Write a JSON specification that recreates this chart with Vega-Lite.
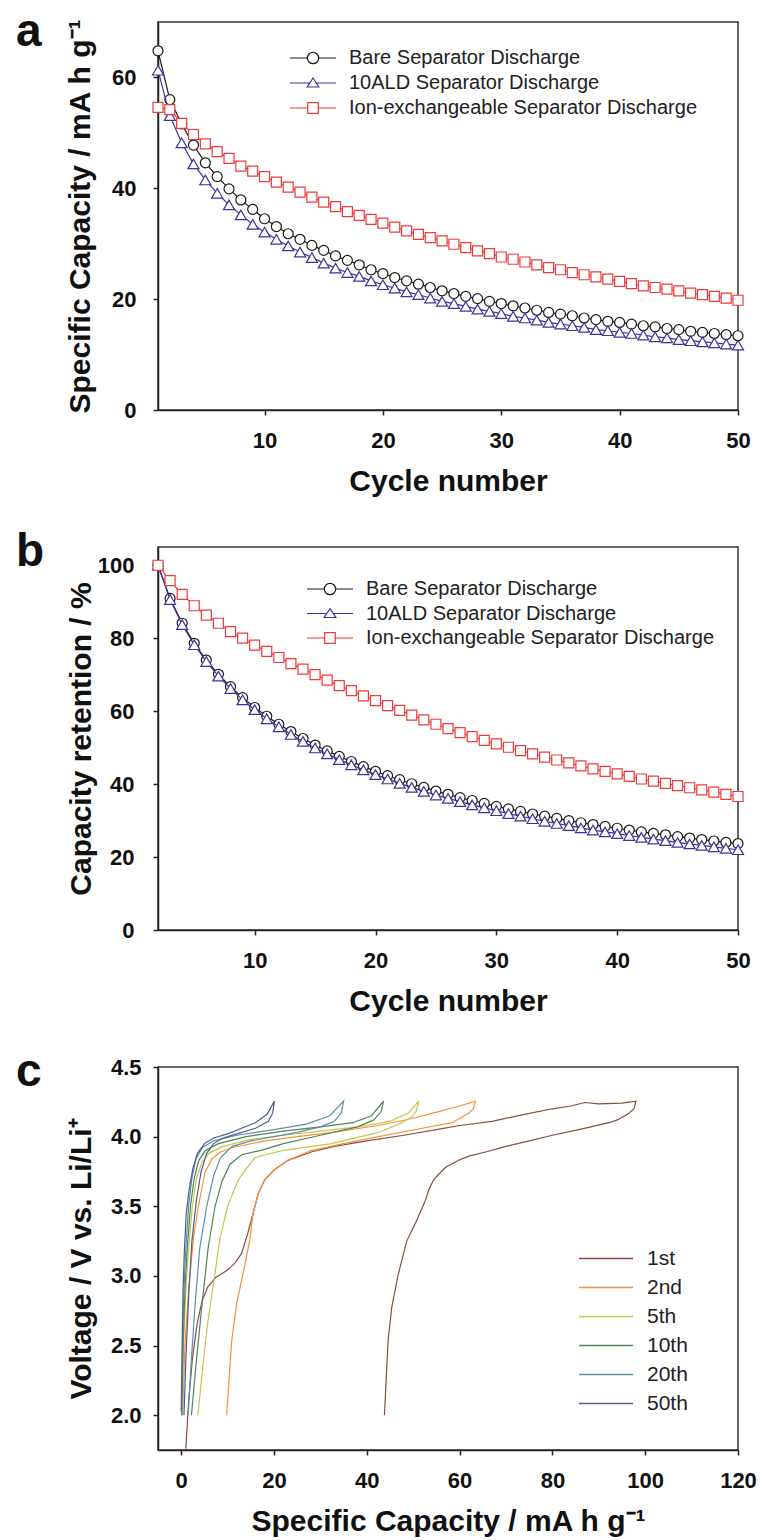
{
  "$schema": "https://vega.github.io/schema/vega-lite/v6.json",
  "background": "white",
  "padding": {"left": 15, "top": 8, "right": 5, "bottom": 5},
  "spacing": 137,
  "bounds": "flush",
  "resolve": {"scale": {"stroke": "independent", "shape": "independent", "color": "independent"}, "legend": {"stroke": "independent", "shape": "independent", "color": "independent"}},
  "config": {
    "font": "Liberation Sans",
    "view": {"stroke": "#333333", "strokeWidth": 1.5},
    "axis": {"grid": false, "domainColor": "#222222", "domainWidth": 1.5, "tickColor": "#222222", "tickWidth": 1.5, "tickSize": 5, "labelFont": "Liberation Sans", "labelFontWeight": "bold", "labelFontSize": 22, "labelColor": "#111111", "labelFlush": false, "labelOverlap": false, "titleFont": "Liberation Sans", "titleFontWeight": "bold", "titleFontSize": 30, "titleColor": "#111111"},
    "legend": {"labelFont": "Liberation Sans", "labelColor": "#222222", "labelLimit": 600}
  },
  "datasets": {
    "capA": [
      {"c":1,"s":"Bare","v":64.8},{"c":2,"s":"Bare","v":56.0},{"c":3,"s":"Bare","v":51.6},{"c":4,"s":"Bare","v":47.8},{"c":5,"s":"Bare","v":44.6},{"c":6,"s":"Bare","v":42.1},{"c":7,"s":"Bare","v":39.9},{"c":8,"s":"Bare","v":37.9},{"c":9,"s":"Bare","v":36.2},{"c":10,"s":"Bare","v":34.5},
      {"c":11,"s":"Bare","v":33.1},{"c":12,"s":"Bare","v":31.8},{"c":13,"s":"Bare","v":30.8},{"c":14,"s":"Bare","v":29.7},{"c":15,"s":"Bare","v":28.8},{"c":16,"s":"Bare","v":27.8},{"c":17,"s":"Bare","v":27.0},{"c":18,"s":"Bare","v":26.2},{"c":19,"s":"Bare","v":25.3},{"c":20,"s":"Bare","v":24.6},
      {"c":21,"s":"Bare","v":23.9},{"c":22,"s":"Bare","v":23.3},{"c":23,"s":"Bare","v":22.7},{"c":24,"s":"Bare","v":22.1},{"c":25,"s":"Bare","v":21.5},{"c":26,"s":"Bare","v":21.0},{"c":27,"s":"Bare","v":20.5},{"c":28,"s":"Bare","v":20.1},{"c":29,"s":"Bare","v":19.6},{"c":30,"s":"Bare","v":19.2},
      {"c":31,"s":"Bare","v":18.8},{"c":32,"s":"Bare","v":18.4},{"c":33,"s":"Bare","v":18.0},{"c":34,"s":"Bare","v":17.6},{"c":35,"s":"Bare","v":17.3},{"c":36,"s":"Bare","v":17.0},{"c":37,"s":"Bare","v":16.6},{"c":38,"s":"Bare","v":16.3},{"c":39,"s":"Bare","v":16.0},{"c":40,"s":"Bare","v":15.8},
      {"c":41,"s":"Bare","v":15.5},{"c":42,"s":"Bare","v":15.2},{"c":43,"s":"Bare","v":15.0},{"c":44,"s":"Bare","v":14.7},{"c":45,"s":"Bare","v":14.5},{"c":46,"s":"Bare","v":14.2},{"c":47,"s":"Bare","v":14.0},{"c":48,"s":"Bare","v":13.8},{"c":49,"s":"Bare","v":13.6},{"c":50,"s":"Bare","v":13.4},
      {"c":1,"s":"ALD","v":61.3},{"c":2,"s":"ALD","v":53.1},{"c":3,"s":"ALD","v":48.2},{"c":4,"s":"ALD","v":44.4},{"c":5,"s":"ALD","v":41.5},{"c":6,"s":"ALD","v":39.1},{"c":7,"s":"ALD","v":37.0},{"c":8,"s":"ALD","v":35.2},{"c":9,"s":"ALD","v":33.5},{"c":10,"s":"ALD","v":32.1},
      {"c":11,"s":"ALD","v":30.8},{"c":12,"s":"ALD","v":29.6},{"c":13,"s":"ALD","v":28.5},{"c":14,"s":"ALD","v":27.5},{"c":15,"s":"ALD","v":26.5},{"c":16,"s":"ALD","v":25.6},{"c":17,"s":"ALD","v":24.8},{"c":18,"s":"ALD","v":24.1},{"c":19,"s":"ALD","v":23.3},{"c":20,"s":"ALD","v":22.6},
      {"c":21,"s":"ALD","v":22.0},{"c":22,"s":"ALD","v":21.3},{"c":23,"s":"ALD","v":20.8},{"c":24,"s":"ALD","v":20.2},{"c":25,"s":"ALD","v":19.6},{"c":26,"s":"ALD","v":19.2},{"c":27,"s":"ALD","v":18.7},{"c":28,"s":"ALD","v":18.2},{"c":29,"s":"ALD","v":17.8},{"c":30,"s":"ALD","v":17.4},
      {"c":31,"s":"ALD","v":16.9},{"c":32,"s":"ALD","v":16.6},{"c":33,"s":"ALD","v":16.2},{"c":34,"s":"ALD","v":15.8},{"c":35,"s":"ALD","v":15.5},{"c":36,"s":"ALD","v":15.2},{"c":37,"s":"ALD","v":14.9},{"c":38,"s":"ALD","v":14.5},{"c":39,"s":"ALD","v":14.3},{"c":40,"s":"ALD","v":14.0},
      {"c":41,"s":"ALD","v":13.8},{"c":42,"s":"ALD","v":13.5},{"c":43,"s":"ALD","v":13.2},{"c":44,"s":"ALD","v":13.0},{"c":45,"s":"ALD","v":12.7},{"c":46,"s":"ALD","v":12.5},{"c":47,"s":"ALD","v":12.3},{"c":48,"s":"ALD","v":12.1},{"c":49,"s":"ALD","v":11.9},{"c":50,"s":"ALD","v":11.7},
      {"c":1,"s":"Ion","v":54.6},{"c":2,"s":"Ion","v":54.2},{"c":3,"s":"Ion","v":51.7},{"c":4,"s":"Ion","v":49.7},{"c":5,"s":"Ion","v":48.0},{"c":6,"s":"Ion","v":46.6},{"c":7,"s":"Ion","v":45.4},{"c":8,"s":"Ion","v":44.0},{"c":9,"s":"Ion","v":43.1},{"c":10,"s":"Ion","v":42.1},
      {"c":11,"s":"Ion","v":41.1},{"c":12,"s":"Ion","v":40.2},{"c":13,"s":"Ion","v":39.3},{"c":14,"s":"Ion","v":38.4},{"c":15,"s":"Ion","v":37.5},{"c":16,"s":"Ion","v":36.7},{"c":17,"s":"Ion","v":35.8},{"c":18,"s":"Ion","v":35.1},{"c":19,"s":"Ion","v":34.4},{"c":20,"s":"Ion","v":33.7},
      {"c":21,"s":"Ion","v":33.0},{"c":22,"s":"Ion","v":32.3},{"c":23,"s":"Ion","v":31.7},{"c":24,"s":"Ion","v":31.1},{"c":25,"s":"Ion","v":30.5},{"c":26,"s":"Ion","v":29.9},{"c":27,"s":"Ion","v":29.3},{"c":28,"s":"Ion","v":28.7},{"c":29,"s":"Ion","v":28.2},{"c":30,"s":"Ion","v":27.6},
      {"c":31,"s":"Ion","v":27.2},{"c":32,"s":"Ion","v":26.7},{"c":33,"s":"Ion","v":26.2},{"c":34,"s":"Ion","v":25.7},{"c":35,"s":"Ion","v":25.3},{"c":36,"s":"Ion","v":24.8},{"c":37,"s":"Ion","v":24.4},{"c":38,"s":"Ion","v":24.0},{"c":39,"s":"Ion","v":23.6},{"c":40,"s":"Ion","v":23.2},
      {"c":41,"s":"Ion","v":22.8},{"c":42,"s":"Ion","v":22.4},{"c":43,"s":"Ion","v":22.1},{"c":44,"s":"Ion","v":21.8},{"c":45,"s":"Ion","v":21.5},{"c":46,"s":"Ion","v":21.1},{"c":47,"s":"Ion","v":20.8},{"c":48,"s":"Ion","v":20.5},{"c":49,"s":"Ion","v":20.2},{"c":50,"s":"Ion","v":19.8}
    ],
    "retB": [
      {"c":2,"s":"Bare","v":100},{"c":3,"s":"Bare","v":90.9},{"c":4,"s":"Bare","v":84.1},{"c":5,"s":"Bare","v":78.6},{"c":6,"s":"Bare","v":74.0},{"c":7,"s":"Bare","v":70.1},{"c":8,"s":"Bare","v":66.7},{"c":9,"s":"Bare","v":63.7},{"c":10,"s":"Bare","v":61.0},
      {"c":11,"s":"Bare","v":58.6},{"c":12,"s":"Bare","v":56.4},{"c":13,"s":"Bare","v":54.4},{"c":14,"s":"Bare","v":52.5},{"c":15,"s":"Bare","v":50.7},{"c":16,"s":"Bare","v":49.1},{"c":17,"s":"Bare","v":47.6},{"c":18,"s":"Bare","v":46.2},{"c":19,"s":"Bare","v":44.8},{"c":20,"s":"Bare","v":43.5},
      {"c":21,"s":"Bare","v":42.3},{"c":22,"s":"Bare","v":41.2},{"c":23,"s":"Bare","v":40.1},{"c":24,"s":"Bare","v":39.1},{"c":25,"s":"Bare","v":38.1},{"c":26,"s":"Bare","v":37.2},{"c":27,"s":"Bare","v":36.3},{"c":28,"s":"Bare","v":35.5},{"c":29,"s":"Bare","v":34.7},{"c":30,"s":"Bare","v":33.9},
      {"c":31,"s":"Bare","v":33.2},{"c":32,"s":"Bare","v":32.5},{"c":33,"s":"Bare","v":31.8},{"c":34,"s":"Bare","v":31.2},{"c":35,"s":"Bare","v":30.6},{"c":36,"s":"Bare","v":30.0},{"c":37,"s":"Bare","v":29.4},{"c":38,"s":"Bare","v":28.9},{"c":39,"s":"Bare","v":28.4},{"c":40,"s":"Bare","v":27.9},
      {"c":41,"s":"Bare","v":27.4},{"c":42,"s":"Bare","v":26.9},{"c":43,"s":"Bare","v":26.5},{"c":44,"s":"Bare","v":26.1},{"c":45,"s":"Bare","v":25.6},{"c":46,"s":"Bare","v":25.2},{"c":47,"s":"Bare","v":24.8},{"c":48,"s":"Bare","v":24.4},{"c":49,"s":"Bare","v":24.0},{"c":50,"s":"Bare","v":23.7},
      {"c":2,"s":"ALD","v":100},{"c":3,"s":"ALD","v":90.6},{"c":4,"s":"ALD","v":83.7},{"c":5,"s":"ALD","v":78.2},{"c":6,"s":"ALD","v":73.6},{"c":7,"s":"ALD","v":69.6},{"c":8,"s":"ALD","v":66.2},{"c":9,"s":"ALD","v":63.1},{"c":10,"s":"ALD","v":60.4},
      {"c":11,"s":"ALD","v":57.9},{"c":12,"s":"ALD","v":55.7},{"c":13,"s":"ALD","v":53.6},{"c":14,"s":"ALD","v":51.7},{"c":15,"s":"ALD","v":49.9},{"c":16,"s":"ALD","v":48.3},{"c":17,"s":"ALD","v":46.7},{"c":18,"s":"ALD","v":45.3},{"c":19,"s":"ALD","v":43.9},{"c":20,"s":"ALD","v":42.6},
      {"c":21,"s":"ALD","v":41.4},{"c":22,"s":"ALD","v":40.2},{"c":23,"s":"ALD","v":39.1},{"c":24,"s":"ALD","v":38.0},{"c":25,"s":"ALD","v":37.0},{"c":26,"s":"ALD","v":36.1},{"c":27,"s":"ALD","v":35.2},{"c":28,"s":"ALD","v":34.3},{"c":29,"s":"ALD","v":33.5},{"c":30,"s":"ALD","v":32.7},
      {"c":31,"s":"ALD","v":31.9},{"c":32,"s":"ALD","v":31.2},{"c":33,"s":"ALD","v":30.5},{"c":34,"s":"ALD","v":29.8},{"c":35,"s":"ALD","v":29.2},{"c":36,"s":"ALD","v":28.6},{"c":37,"s":"ALD","v":28.0},{"c":38,"s":"ALD","v":27.4},{"c":39,"s":"ALD","v":26.9},{"c":40,"s":"ALD","v":26.4},
      {"c":41,"s":"ALD","v":25.9},{"c":42,"s":"ALD","v":25.4},{"c":43,"s":"ALD","v":24.9},{"c":44,"s":"ALD","v":24.5},{"c":45,"s":"ALD","v":24.0},{"c":46,"s":"ALD","v":23.6},{"c":47,"s":"ALD","v":23.2},{"c":48,"s":"ALD","v":22.8},{"c":49,"s":"ALD","v":22.4},{"c":50,"s":"ALD","v":22.0},
      {"c":2,"s":"Ion","v":100},{"c":3,"s":"Ion","v":95.8},{"c":4,"s":"Ion","v":92.0},{"c":5,"s":"Ion","v":88.9},{"c":6,"s":"Ion","v":86.3},{"c":7,"s":"Ion","v":84.1},{"c":8,"s":"Ion","v":81.8},{"c":9,"s":"Ion","v":80.0},{"c":10,"s":"Ion","v":78.1},
      {"c":11,"s":"Ion","v":76.4},{"c":12,"s":"Ion","v":74.7},{"c":13,"s":"Ion","v":73.0},{"c":14,"s":"Ion","v":71.5},{"c":15,"s":"Ion","v":70.0},{"c":16,"s":"Ion","v":68.5},{"c":17,"s":"Ion","v":67.0},{"c":18,"s":"Ion","v":65.6},{"c":19,"s":"Ion","v":64.2},{"c":20,"s":"Ion","v":62.9},
      {"c":21,"s":"Ion","v":61.5},{"c":22,"s":"Ion","v":60.2},{"c":23,"s":"Ion","v":58.9},{"c":24,"s":"Ion","v":57.6},{"c":25,"s":"Ion","v":56.4},{"c":26,"s":"Ion","v":55.2},{"c":27,"s":"Ion","v":54.1},{"c":28,"s":"Ion","v":53.0},{"c":29,"s":"Ion","v":52.0},{"c":30,"s":"Ion","v":51.0},
      {"c":31,"s":"Ion","v":50.1},{"c":32,"s":"Ion","v":49.2},{"c":33,"s":"Ion","v":48.3},{"c":34,"s":"Ion","v":47.4},{"c":35,"s":"Ion","v":46.6},{"c":36,"s":"Ion","v":45.8},{"c":37,"s":"Ion","v":45.0},{"c":38,"s":"Ion","v":44.2},{"c":39,"s":"Ion","v":43.5},{"c":40,"s":"Ion","v":42.8},
      {"c":41,"s":"Ion","v":42.1},{"c":42,"s":"Ion","v":41.4},{"c":43,"s":"Ion","v":40.8},{"c":44,"s":"Ion","v":40.2},{"c":45,"s":"Ion","v":39.6},{"c":46,"s":"Ion","v":39.0},{"c":47,"s":"Ion","v":38.4},{"c":48,"s":"Ion","v":37.8},{"c":49,"s":"Ion","v":37.2},{"c":50,"s":"Ion","v":36.6}
    ],
    "volt": [
      {"k":"1st","i":0,"q":1.0,"v":1.76},{"k":"1st","i":1,"q":1.6,"v":2.1},{"k":"1st","i":2,"q":2.4,"v":2.4},{"k":"1st","i":3,"q":3.4,"v":2.65},{"k":"1st","i":4,"q":4.5,"v":2.82},{"k":"1st","i":5,"q":5.7,"v":2.92},{"k":"1st","i":6,"q":7.5,"v":2.99},{"k":"1st","i":7,"q":9.9,"v":3.04},{"k":"1st","i":8,"q":11.5,"v":3.09},{"k":"1st","i":9,"q":13.0,"v":3.16},
      {"k":"1st","i":10,"q":14.3,"v":3.3},{"k":"1st","i":11,"q":15.5,"v":3.45},{"k":"1st","i":12,"q":16.6,"v":3.59},{"k":"1st","i":13,"q":18,"v":3.69},{"k":"1st","i":14,"q":20,"v":3.76},{"k":"1st","i":15,"q":23,"v":3.83},{"k":"1st","i":16,"q":28,"v":3.89},{"k":"1st","i":17,"q":33,"v":3.93},{"k":"1st","i":18,"q":40,"v":3.97},{"k":"1st","i":19,"q":48,"v":4.01},
      {"k":"1st","i":20,"q":55,"v":4.05},{"k":"1st","i":21,"q":60,"v":4.08},{"k":"1st","i":22,"q":67,"v":4.11},{"k":"1st","i":23,"q":74,"v":4.16},{"k":"1st","i":24,"q":80,"v":4.2},{"k":"1st","i":25,"q":84,"v":4.22},{"k":"1st","i":26,"q":87,"v":4.245},{"k":"1st","i":27,"q":90,"v":4.235},{"k":"1st","i":28,"q":95,"v":4.24},{"k":"1st","i":29,"q":98,"v":4.255},
      {"k":"1st","i":30,"q":97.6,"v":4.2},{"k":"1st","i":31,"q":96.2,"v":4.16},{"k":"1st","i":32,"q":94,"v":4.12},{"k":"1st","i":33,"q":92.2,"v":4.1},{"k":"1st","i":34,"q":85.7,"v":4.05},{"k":"1st","i":35,"q":80,"v":4.01},{"k":"1st","i":36,"q":75,"v":3.97},{"k":"1st","i":37,"q":70,"v":3.93},{"k":"1st","i":38,"q":65.6,"v":3.89},{"k":"1st","i":39,"q":62,"v":3.86},
      {"k":"1st","i":40,"q":59.8,"v":3.83},{"k":"1st","i":41,"q":57,"v":3.78},{"k":"1st","i":42,"q":55.5,"v":3.73},{"k":"1st","i":43,"q":54.4,"v":3.69},{"k":"1st","i":44,"q":53.4,"v":3.62},{"k":"1st","i":45,"q":52.6,"v":3.54},{"k":"1st","i":46,"q":50.5,"v":3.38},{"k":"1st","i":47,"q":48.6,"v":3.25},{"k":"1st","i":48,"q":46.7,"v":3.0},{"k":"1st","i":49,"q":45.4,"v":2.78},
      {"k":"1st","i":50,"q":44.6,"v":2.54},{"k":"1st","i":51,"q":43.8,"v":2.0},
      {"k":"2nd","i":0,"q":0.3,"v":2.0},{"k":"2nd","i":1,"q":0.8,"v":2.5},{"k":"2nd","i":2,"q":1.6,"v":2.9},{"k":"2nd","i":3,"q":2.6,"v":3.26},{"k":"2nd","i":4,"q":3.7,"v":3.5},{"k":"2nd","i":5,"q":5.1,"v":3.74},{"k":"2nd","i":6,"q":6.6,"v":3.84},{"k":"2nd","i":7,"q":8.5,"v":3.89},{"k":"2nd","i":8,"q":10.9,"v":3.92},{"k":"2nd","i":9,"q":18.1,"v":3.97},
      {"k":"2nd","i":10,"q":25,"v":4.0},{"k":"2nd","i":11,"q":32.5,"v":4.03},{"k":"2nd","i":12,"q":42.5,"v":4.08},{"k":"2nd","i":13,"q":49.7,"v":4.13},{"k":"2nd","i":14,"q":55.5,"v":4.18},{"k":"2nd","i":15,"q":60,"v":4.22},{"k":"2nd","i":16,"q":63.4,"v":4.255},{"k":"2nd","i":17,"q":63,"v":4.2},{"k":"2nd","i":18,"q":62,"v":4.17},{"k":"2nd","i":19,"q":58.4,"v":4.1},
      {"k":"2nd","i":20,"q":51.9,"v":4.06},{"k":"2nd","i":21,"q":42.5,"v":4.0},{"k":"2nd","i":22,"q":35,"v":3.95},{"k":"2nd","i":23,"q":28,"v":3.9},{"k":"2nd","i":24,"q":23,"v":3.83},{"k":"2nd","i":25,"q":20,"v":3.76},{"k":"2nd","i":26,"q":18,"v":3.69},{"k":"2nd","i":27,"q":16.6,"v":3.59},{"k":"2nd","i":28,"q":15.5,"v":3.45},{"k":"2nd","i":29,"q":14.8,"v":3.26},
      {"k":"2nd","i":30,"q":13.6,"v":3.06},{"k":"2nd","i":31,"q":12.0,"v":2.81},{"k":"2nd","i":32,"q":10.9,"v":2.54},{"k":"2nd","i":33,"q":10.3,"v":2.25},{"k":"2nd","i":34,"q":9.8,"v":2.0},
      {"k":"5th","i":0,"q":0.2,"v":2.0},{"k":"5th","i":1,"q":0.5,"v":2.5},{"k":"5th","i":2,"q":1.0,"v":2.9},{"k":"5th","i":3,"q":1.6,"v":3.2},{"k":"5th","i":4,"q":2.4,"v":3.5},{"k":"5th","i":5,"q":3.3,"v":3.7},{"k":"5th","i":6,"q":4.5,"v":3.82},{"k":"5th","i":7,"q":6,"v":3.88},{"k":"5th","i":8,"q":9,"v":3.93},{"k":"5th","i":9,"q":15,"v":3.98},
      {"k":"5th","i":10,"q":22,"v":4.01},{"k":"5th","i":11,"q":30,"v":4.04},{"k":"5th","i":12,"q":38,"v":4.07},{"k":"5th","i":13,"q":45,"v":4.11},{"k":"5th","i":14,"q":49,"v":4.17},{"k":"5th","i":15,"q":51.2,"v":4.255},{"k":"5th","i":16,"q":50.6,"v":4.18},{"k":"5th","i":17,"q":49.7,"v":4.14},{"k":"5th","i":18,"q":46.9,"v":4.09},{"k":"5th","i":19,"q":42.5,"v":4.03},
      {"k":"5th","i":20,"q":32.4,"v":3.95},{"k":"5th","i":21,"q":21.7,"v":3.9},{"k":"5th","i":22,"q":15.9,"v":3.85},{"k":"5th","i":23,"q":13.8,"v":3.76},{"k":"5th","i":24,"q":12.3,"v":3.69},{"k":"5th","i":25,"q":10,"v":3.5},{"k":"5th","i":26,"q":8.3,"v":3.26},{"k":"5th","i":27,"q":7.3,"v":3.02},{"k":"5th","i":28,"q":5.7,"v":2.66},{"k":"5th","i":29,"q":4.5,"v":2.3},
      {"k":"5th","i":30,"q":3.6,"v":2.0},
      {"k":"10th","i":0,"q":0.1,"v":2.0},{"k":"10th","i":1,"q":0.4,"v":2.5},{"k":"10th","i":2,"q":0.8,"v":2.9},{"k":"10th","i":3,"q":1.3,"v":3.2},{"k":"10th","i":4,"q":2.0,"v":3.5},{"k":"10th","i":5,"q":2.8,"v":3.7},{"k":"10th","i":6,"q":3.8,"v":3.83},{"k":"10th","i":7,"q":5.2,"v":3.9},{"k":"10th","i":8,"q":8,"v":3.95},{"k":"10th","i":9,"q":14,"v":4.0},
      {"k":"10th","i":10,"q":22,"v":4.04},{"k":"10th","i":11,"q":30,"v":4.07},{"k":"10th","i":12,"q":37,"v":4.1},{"k":"10th","i":13,"q":41,"v":4.15},{"k":"10th","i":14,"q":43.6,"v":4.255},{"k":"10th","i":15,"q":43.1,"v":4.18},{"k":"10th","i":16,"q":41.5,"v":4.12},{"k":"10th","i":17,"q":38,"v":4.07},{"k":"10th","i":18,"q":30,"v":4.01},{"k":"10th","i":19,"q":22,"v":3.95},
      {"k":"10th","i":20,"q":17,"v":3.9},{"k":"10th","i":21,"q":13,"v":3.87},{"k":"10th","i":22,"q":10.5,"v":3.8},{"k":"10th","i":23,"q":8.8,"v":3.68},{"k":"10th","i":24,"q":7.3,"v":3.5},{"k":"10th","i":25,"q":5.8,"v":3.2},{"k":"10th","i":26,"q":4.5,"v":2.8},{"k":"10th","i":27,"q":3.3,"v":2.4},{"k":"10th","i":28,"q":2.2,"v":2.0},
      {"k":"20th","i":0,"q":0.05,"v":2.0},{"k":"20th","i":1,"q":0.3,"v":2.5},{"k":"20th","i":2,"q":0.6,"v":2.9},{"k":"20th","i":3,"q":1.0,"v":3.2},{"k":"20th","i":4,"q":1.6,"v":3.5},{"k":"20th","i":5,"q":2.3,"v":3.7},{"k":"20th","i":6,"q":3.2,"v":3.84},{"k":"20th","i":7,"q":4.5,"v":3.92},{"k":"20th","i":8,"q":7,"v":3.97},{"k":"20th","i":9,"q":12,"v":4.01},
      {"k":"20th","i":10,"q":20,"v":4.05},{"k":"20th","i":11,"q":27,"v":4.09},{"k":"20th","i":12,"q":32,"v":4.15},{"k":"20th","i":13,"q":35,"v":4.255},{"k":"20th","i":14,"q":34.5,"v":4.17},{"k":"20th","i":15,"q":33,"v":4.11},{"k":"20th","i":16,"q":30,"v":4.07},{"k":"20th","i":17,"q":25,"v":4.03},{"k":"20th","i":18,"q":20,"v":4.0},{"k":"20th","i":19,"q":15,"v":3.97},
      {"k":"20th","i":20,"q":11,"v":3.93},{"k":"20th","i":21,"q":8.5,"v":3.85},{"k":"20th","i":22,"q":7,"v":3.72},{"k":"20th","i":23,"q":5.5,"v":3.5},{"k":"20th","i":24,"q":4,"v":3.2},{"k":"20th","i":25,"q":3,"v":2.8},{"k":"20th","i":26,"q":2.2,"v":2.4},{"k":"20th","i":27,"q":1.5,"v":2.0},
      {"k":"50th","i":0,"q":0,"v":2.03},{"k":"50th","i":1,"q":0.2,"v":2.5},{"k":"50th","i":2,"q":0.4,"v":2.9},{"k":"50th","i":3,"q":0.7,"v":3.2},{"k":"50th","i":4,"q":1.1,"v":3.45},{"k":"50th","i":5,"q":1.7,"v":3.62},{"k":"50th","i":6,"q":2.5,"v":3.77},{"k":"50th","i":7,"q":3.5,"v":3.88},{"k":"50th","i":8,"q":5,"v":3.95},{"k":"50th","i":9,"q":7,"v":3.99},
      {"k":"50th","i":10,"q":10,"v":4.02},{"k":"50th","i":11,"q":13,"v":4.06},{"k":"50th","i":12,"q":16,"v":4.1},{"k":"50th","i":13,"q":18.5,"v":4.16},{"k":"50th","i":14,"q":20.1,"v":4.255},{"k":"50th","i":15,"q":19.7,"v":4.17},{"k":"50th","i":16,"q":18.8,"v":4.11},{"k":"50th","i":17,"q":16,"v":4.06},{"k":"50th","i":18,"q":12,"v":4.02},{"k":"50th","i":19,"q":9,"v":3.99},
      {"k":"50th","i":20,"q":7,"v":3.95},{"k":"50th","i":21,"q":5.5,"v":3.88},{"k":"50th","i":22,"q":4.3,"v":3.75},{"k":"50th","i":23,"q":3.3,"v":3.55},{"k":"50th","i":24,"q":2.3,"v":3.25},{"k":"50th","i":25,"q":1.6,"v":2.85},{"k":"50th","i":26,"q":1.0,"v":2.4},{"k":"50th","i":27,"q":0.6,"v":2.0}
    ]
  },
  "vconcat": [
    {
      "width": 580, "height": 388,
      "title": {"text": "a", "anchor": "start", "frame": "group", "orient": "top", "offset": 0, "baseline": "alphabetic", "dx": -142, "dy": 74, "fontSize": 46, "fontWeight": "bold", "font": "Liberation Sans", "color": "#111111"},
      "data": {"name": "capA"},
      "encoding": {
        "x": {"field": "c", "type": "quantitative", "scale": {"domain": [1, 50], "nice": false, "zero": false}, "axis": {"values": [10, 20, 30, 40, 50], "title": "Cycle number", "labelPadding": 15, "titlePadding": 15}},
        "y": {"field": "v", "type": "quantitative", "scale": {"domain": [0, 70], "nice": false}, "axis": {"values": [0, 20, 40, 60], "title": "Specific Capacity / mA h g⁻¹", "labelPadding": 17, "titlePadding": 16}}
      },
      "layer": [
        {"transform": [{"filter": "datum.s == 'Bare'"}], "mark": {"type": "line", "color": "#1a1a1a", "strokeWidth": 1.2}, "encoding": {}},
        {"transform": [{"filter": "datum.s == 'Bare'"}], "mark": {"type": "point", "shape": "circle", "size": 100, "filled": true, "fill": "white", "stroke": "#1a1a1a", "strokeWidth": 1.2, "opacity": 1}, "encoding": {}},
        {"transform": [{"filter": "datum.s == 'ALD'"}], "mark": {"type": "line", "color": "#40329a", "strokeWidth": 1.2}, "encoding": {}},
        {"transform": [{"filter": "datum.s == 'ALD'"}], "mark": {"type": "point", "shape": "triangle-up", "size": 121, "filled": true, "fill": "white", "stroke": "#40329a", "strokeWidth": 1.2, "opacity": 1}, "encoding": {}},
        {"transform": [{"filter": "datum.s == 'Ion'"}], "mark": {"type": "line", "color": "#ee3a3a", "strokeWidth": 1.2}, "encoding": {}},
        {"transform": [{"filter": "datum.s == 'Ion'"}], "mark": {"type": "point", "shape": "square", "size": 100, "filled": true, "fill": "white", "stroke": "#ee3a3a", "strokeWidth": 1.2, "opacity": 1}, "encoding": {}},
        {"transform": [{"filter": "false"}], "mark": {"type": "point", "filled": false, "opacity": 1, "strokeWidth": 1.2},
          "encoding": {
            "stroke": {"field": "s", "type": "nominal", "scale": {"domain": ["Bare", "ALD", "Ion"], "range": ["#1a1a1a", "#40329a", "#ee3a3a"]},
              "legend": {"title": null, "orient": "none", "legendX": 132, "legendY": 26, "padding": 0, "symbolSize": 144, "symbolStrokeWidth": 1.2, "symbolOffset": 13, "labelOffset": 26, "rowPadding": 5, "labelFontSize": 20, "labelExpr": "datum.value == 'Bare' ? 'Bare Separator Discharge' : datum.value == 'ALD' ? '10ALD Separator Discharge' : 'Ion-exchangeable Separator Discharge'"}},
            "shape": {"field": "s", "type": "nominal", "scale": {"domain": ["Bare", "ALD", "Ion"], "range": ["M-3.83,0H-0.95M0.95,0H3.83M0.95,0A0.95,0.95,0,1,1,-0.95,0A0.95,0.95,0,1,1,0.95,0Z", "M-3.83,0H-0.54M0.54,0H3.83M0,-0.83L0.97,0.67L-0.97,0.67Z", "M-3.83,0H-0.88M0.88,0H3.83M-0.88,-0.88H0.88V0.88H-0.88Z"]},
              "legend": {"title": null, "orient": "none", "legendX": 132, "legendY": 26, "padding": 0, "symbolSize": 144, "symbolStrokeWidth": 1.2, "symbolOffset": 13, "labelOffset": 26, "rowPadding": 5, "labelFontSize": 20, "labelExpr": "datum.value == 'Bare' ? 'Bare Separator Discharge' : datum.value == 'ALD' ? '10ALD Separator Discharge' : 'Ion-exchangeable Separator Discharge'"}}
          }
        }
      ]
    },
    {
      "width": 580, "height": 383,
      "title": {"text": "b", "anchor": "start", "frame": "group", "orient": "top", "offset": 0, "baseline": "alphabetic", "dx": -142, "dy": 65, "fontSize": 46, "fontWeight": "bold", "font": "Liberation Sans", "color": "#111111"},
      "data": {"name": "retB"},
      "encoding": {
        "x": {"field": "c", "type": "quantitative", "scale": {"domain": [2, 50], "nice": false, "zero": false}, "axis": {"values": [10, 20, 30, 40, 50], "title": "Cycle number", "labelPadding": 15, "titlePadding": 15}},
        "y": {"field": "v", "type": "quantitative", "scale": {"domain": [0, 105], "nice": false}, "axis": {"values": [0, 20, 40, 60, 80, 100], "title": "Capacity retention / %", "labelPadding": 19, "titlePadding": 1}}
      },
      "layer": [
        {"transform": [{"filter": "datum.s == 'Bare'"}], "mark": {"type": "line", "color": "#1a1a1a", "strokeWidth": 1.2}, "encoding": {}},
        {"transform": [{"filter": "datum.s == 'Bare'"}], "mark": {"type": "point", "shape": "circle", "size": 100, "filled": true, "fill": "white", "stroke": "#1a1a1a", "strokeWidth": 1.2, "opacity": 1}, "encoding": {}},
        {"transform": [{"filter": "datum.s == 'ALD'"}], "mark": {"type": "line", "color": "#40329a", "strokeWidth": 1.2}, "encoding": {}},
        {"transform": [{"filter": "datum.s == 'ALD'"}], "mark": {"type": "point", "shape": "triangle-up", "size": 121, "filled": true, "fill": "white", "stroke": "#40329a", "strokeWidth": 1.2, "opacity": 1}, "encoding": {}},
        {"transform": [{"filter": "datum.s == 'Ion'"}], "mark": {"type": "line", "color": "#ee3a3a", "strokeWidth": 1.2}, "encoding": {}},
        {"transform": [{"filter": "datum.s == 'Ion'"}], "mark": {"type": "point", "shape": "square", "size": 100, "filled": true, "fill": "white", "stroke": "#ee3a3a", "strokeWidth": 1.2, "opacity": 1}, "encoding": {}},
        {"transform": [{"filter": "false"}], "mark": {"type": "point", "filled": false, "opacity": 1, "strokeWidth": 1.2},
          "encoding": {
            "stroke": {"field": "s", "type": "nominal", "scale": {"domain": ["bare", "ald", "ion"], "range": ["#1a1a1a", "#40329a", "#ee3a3a"]},
              "legend": {"title": null, "orient": "none", "legendX": 149, "legendY": 32, "padding": 0, "symbolSize": 144, "symbolStrokeWidth": 1.2, "symbolOffset": 13, "labelOffset": 26, "rowPadding": 4.5, "labelFontSize": 20, "labelExpr": "datum.value == 'bare' ? 'Bare Separator Discharge' : datum.value == 'ald' ? '10ALD Separator Discharge' : 'Ion-exchangeable Separator Discharge'"}},
            "shape": {"field": "s", "type": "nominal", "scale": {"domain": ["bare", "ald", "ion"], "range": ["M-3.83,0H-0.95M0.95,0H3.83M0.95,0A0.95,0.95,0,1,1,-0.95,0A0.95,0.95,0,1,1,0.95,0Z", "M-3.83,0H-0.54M0.54,0H3.83M0,-0.83L0.97,0.67L-0.97,0.67Z", "M-3.83,0H-0.88M0.88,0H3.83M-0.88,-0.88H0.88V0.88H-0.88Z"]},
              "legend": {"title": null, "orient": "none", "legendX": 149, "legendY": 32, "padding": 0, "symbolSize": 144, "symbolStrokeWidth": 1.2, "symbolOffset": 13, "labelOffset": 26, "rowPadding": 4.5, "labelFontSize": 20, "labelExpr": "datum.value == 'bare' ? 'Bare Separator Discharge' : datum.value == 'ald' ? '10ALD Separator Discharge' : 'Ion-exchangeable Separator Discharge'"}}
          }
        }
      ]
    },
    {
      "width": 580, "height": 383,
      "title": {"text": "c", "anchor": "start", "frame": "group", "orient": "top", "offset": 0, "baseline": "alphabetic", "dx": -142, "dy": 76, "fontSize": 46, "fontWeight": "bold", "font": "Liberation Sans", "color": "#111111"},
      "data": {"name": "volt"},
      "mark": {"type": "line", "strokeWidth": 1.2},
      "encoding": {
        "x": {"field": "q", "type": "quantitative", "scale": {"domain": [-5, 120], "nice": false, "zero": false}, "axis": {"values": [0, 20, 40, 60, 80, 100, 120], "title": "Specific Capacity / mA h g⁻¹", "labelPadding": 15, "titlePadding": 15}},
        "y": {"field": "v", "type": "quantitative", "scale": {"domain": [1.75, 4.5], "nice": false, "zero": false}, "axis": {"values": [2, 2.5, 3, 3.5, 4, 4.5], "format": ".1f", "title": "Voltage / V vs. Li/Li⁺", "labelPadding": 12, "titlePadding": 14}},
        "color": {"field": "k", "type": "nominal", "scale": {"domain": ["1st", "2nd", "5th", "10th", "20th", "50th"], "range": ["#8b4c3f", "#f7913a", "#c6c64f", "#4f8456", "#5b8fa8", "#4f5f8a"]},
          "legend": {"title": null, "orient": "none", "legendX": 421, "legendY": 181, "padding": 0, "symbolType": "M-4.5,0H4.5", "symbolSize": 144, "symbolStrokeWidth": 1.5, "symbolOffset": 16.5, "labelOffset": 30.5, "rowPadding": 7, "labelFontSize": 21}},
        "order": {"field": "i", "type": "quantitative"}
      }
    }
  ]
}
